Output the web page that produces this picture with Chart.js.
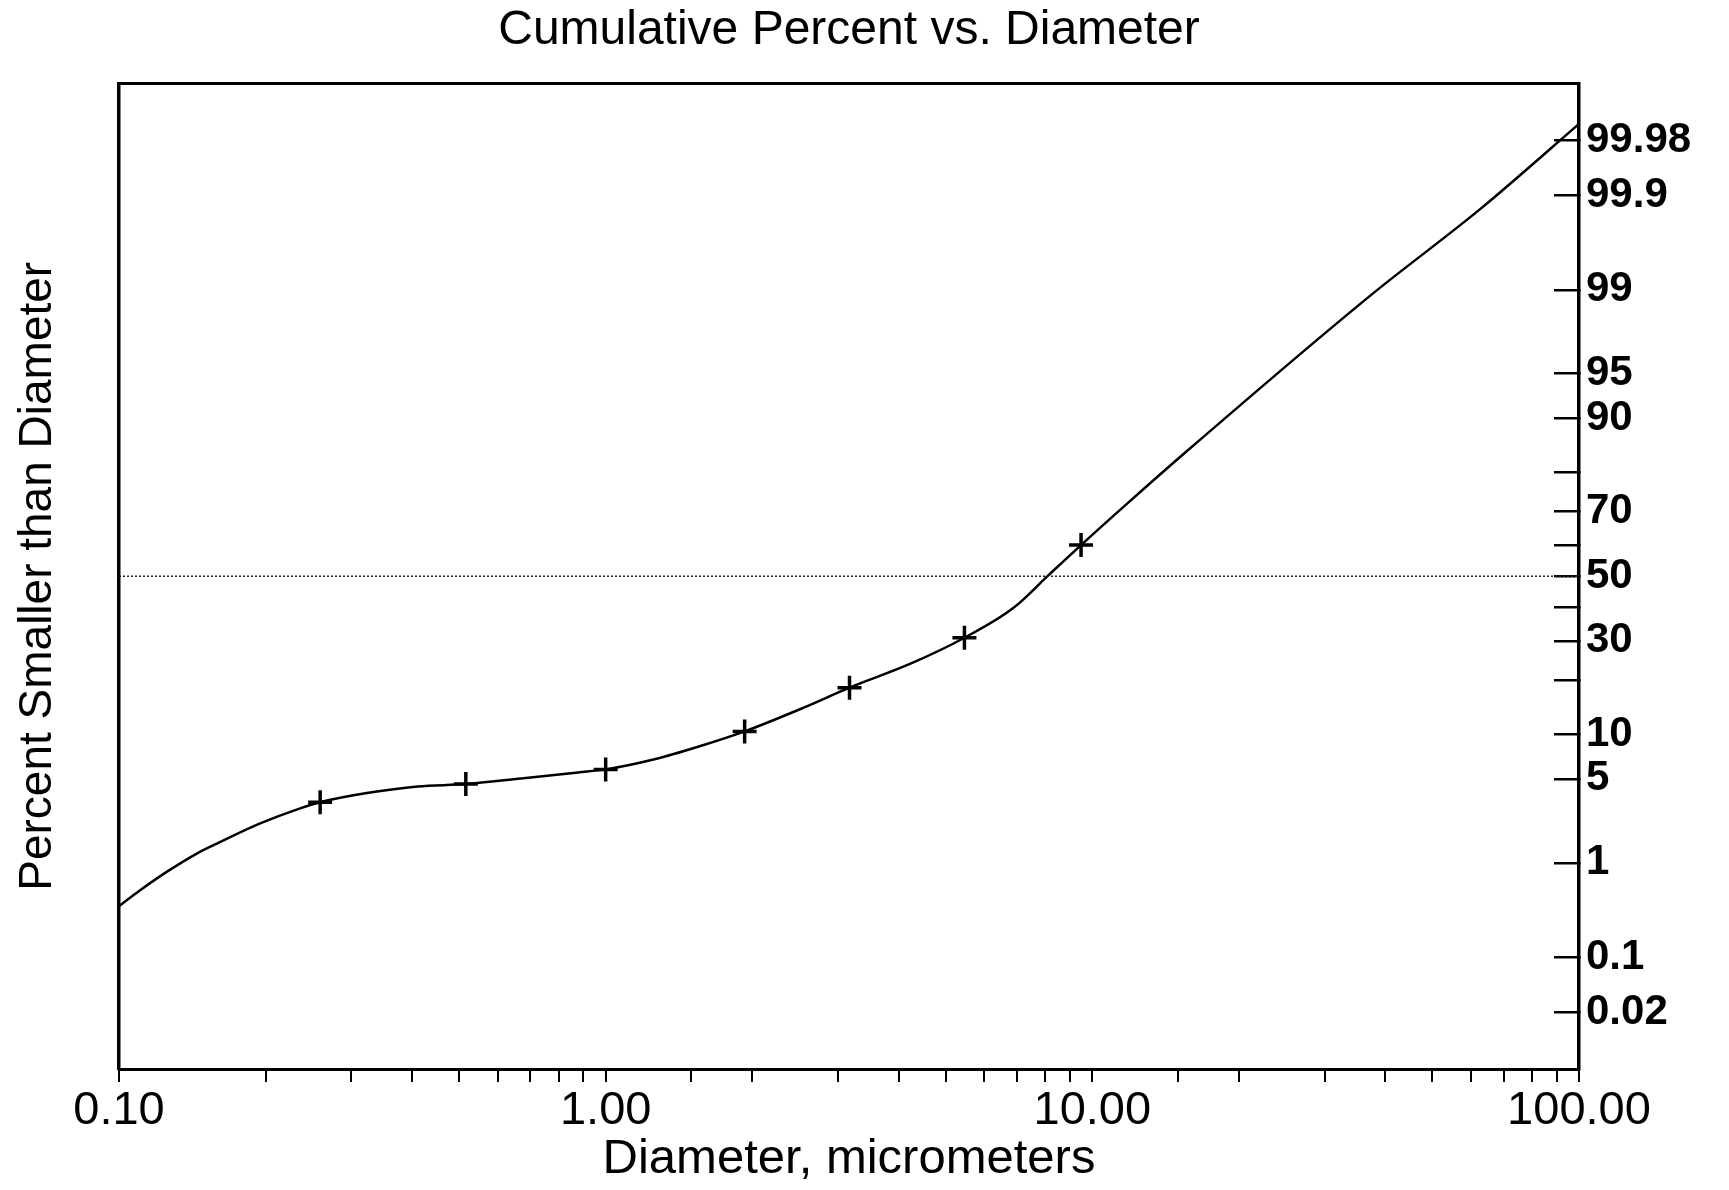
<!DOCTYPE html>
<html>
<head>
<meta charset="utf-8">
<title>Cumulative Percent vs. Diameter</title>
<script src="https://cdn.jsdelivr.net/npm/chart.js@4.4.1/dist/chart.umd.min.js"></script>
<style>
  html, body { margin: 0; padding: 0; background: #fff; }
  canvas { display: block; }
</style>
</head>
<body>
<canvas id="chart-cumulative" width="1729" height="1190"></canvas>
<script>
// Smoothed cumulative distribution (diameter in micrometers, percent smaller)
const curveDiameter = [0.100, 0.1105, 0.1253, 0.1445, 0.1589, 0.195, 0.2356, 0.259, 0.323,
  0.411, 0.516, 0.670, 0.878, 1.00, 1.26, 1.56, 1.93, 2.55, 3.17,
  4.23, 5.46, 6.90, 8.12, 9.48, 11.9, 15.5, 37.2, 63.0, 100];
const curvePercent = [0.37, 0.54, 0.82, 1.22, 1.50, 2.24, 2.98, 3.33, 3.92,
  4.40, 4.58, 5.04, 5.57, 5.85, 6.87, 8.38, 10.4, 14.3, 18.3,
  23.9, 30.9, 40.0, 50.3, 60.0, 72.7, 84.2, 98.86, 99.86, 99.988];

// Measured points marked with +
const sampleDiameter = [0.259, 0.516, 1.00, 1.93, 3.17, 5.46, 9.48];
const samplePercent = [3.33, 4.58, 5.85, 10.4, 18.3, 30.9, 60.0];

const medianPercent = 50;

const xMajorTicks = [0.1, 1, 10, 100];
const xMajorLabels = ['0.10', '1.00', '10.00', '100.00'];

const yTickPercent = [0.02, 0.1, 1, 5, 10, 20, 30, 40, 50, 60, 70, 80, 90, 95, 99, 99.9, 99.98];
const yTickLabels = ['0.02', '0.1', '1', '5', '10', '', '30', '', '50', '', '70', '', '90', '95', '99', '99.9', '99.98'];

const FONT = 'Liberation Sans, Arial, Helvetica, sans-serif';
const INK = '#000';

// inverse standard normal CDF (Acklam)
function probit(p) {
  const a = [-3.969683028665376e+01, 2.209460984245205e+02, -2.759285104469687e+02, 1.383577518672690e+02, -3.066479806614716e+01, 2.506628277459239e+00];
  const b = [-5.447609879822406e+01, 1.615858368580409e+02, -1.556989798598866e+02, 6.680131188771972e+01, -1.328068155288572e+01];
  const c = [-7.784894002430293e-03, -3.223964580411365e-01, -2.400758277161838e+00, -2.549732539343734e+00, 4.374664141464968e+00, 2.938163982698783e+00];
  const d = [7.784695709041462e-03, 3.224671290700398e-01, 2.445134137142996e+00, 3.754408661907416e+00];
  const plow = 0.02425;
  let q, r;
  if (p < plow) {
    q = Math.sqrt(-2 * Math.log(p));
    return (((((c[0] * q + c[1]) * q + c[2]) * q + c[3]) * q + c[4]) * q + c[5]) / ((((d[0] * q + d[1]) * q + d[2]) * q + d[3]) * q + 1);
  }
  if (p <= 1 - plow) {
    q = p - 0.5; r = q * q;
    return (((((a[0] * r + a[1]) * r + a[2]) * r + a[3]) * r + a[4]) * r + a[5]) * q / (((((b[0] * r + b[1]) * r + b[2]) * r + b[3]) * r + b[4]) * r + 1);
  }
  q = Math.sqrt(-2 * Math.log(1 - p));
  return -(((((c[0] * q + c[1]) * q + c[2]) * q + c[3]) * q + c[4]) * q + c[5]) / ((((d[0] * q + d[1]) * q + d[2]) * q + d[3]) * q + 1);
}

// Normal probability axis: values are percents, spaced by their z-score
class ProbabilityScale extends Chart.LinearScale {
  static id = 'probability';
  static defaults = Chart.LinearScale.defaults;

  determineDataLimits() {
    this.min = probit(this.options.min / 100);
    this.max = probit(this.options.max / 100);
  }

  buildTicks() {
    return yTickPercent.map(value => ({ value }));
  }

  getPixelForValue(value) {
    if (value === null || value === undefined) return NaN;
    return this.getPixelForDecimal((probit(value / 100) - this._startValue) / this._valueRange);
  }
}
Chart.register(ProbabilityScale);

const toPoints = (xs, ys) => xs.map((x, i) => ({ x, y: ys[i] }));

const ctx = document.getElementById('chart-cumulative').getContext('2d');
new Chart(ctx, {
  type: 'line',
  data: {
    datasets: [
      {
        label: 'median',
        data: [{ x: xMajorTicks[0], y: medianPercent }, { x: xMajorTicks[xMajorTicks.length - 1], y: medianPercent }],
        borderColor: '#222',
        borderWidth: 1.5,
        borderDash: [2, 2],
        pointRadius: 0,
        xAxisID: 'x',
        yAxisID: 'y'
      },
      {
        label: 'cumulative',
        data: toPoints(curveDiameter, curvePercent),
        borderColor: INK,
        borderWidth: 2.5,
        cubicInterpolationMode: 'monotone',
        pointRadius: 0,
        xAxisID: 'x',
        yAxisID: 'y'
      },
      {
        label: 'samples',
        data: toPoints(sampleDiameter, samplePercent),
        showLine: false,
        pointStyle: 'cross',
        pointRadius: 12,
        pointBorderWidth: 3.5,
        pointBorderColor: INK,
        xAxisID: 'x',
        yAxisID: 'y'
      }
    ]
  },
  options: {
    responsive: false,
    animation: false,
    events: [],
    layout: { padding: 0 },
    plugins: {
      legend: { display: false },
      tooltip: { enabled: false },
      title: {
        display: true,
        fullSize: false,
        text: 'Cumulative Percent vs. Diameter',
        color: INK,
        font: { family: FONT, size: 48, weight: 'normal' },
        padding: { top: 2, bottom: 24 }
      }
    },
    scales: {
      x: {
        type: 'logarithmic',
        position: 'bottom',
        min: 0.1,
        max: 100,
        grid: { drawOnChartArea: false, tickLength: 13, color: INK, lineWidth: 2 },
        border: { color: INK, width: 3 },
        ticks: {
          autoSkip: false,
          maxRotation: 0,
          padding: 1,
          color: INK,
          font: { family: FONT, size: 47 },
          callback: v => {
            const i = xMajorTicks.findIndex(m => Math.abs(v - m) < m * 1e-6);
            return i >= 0 ? xMajorLabels[i] : '';
          }
        },
        title: {
          display: true,
          text: 'Diameter, micrometers',
          color: INK,
          font: { family: FONT, size: 49 },
          padding: { top: 0, bottom: 1 }
        },
        afterFit: s => { s.height = 121; }
      },
      xTop: {
        type: 'logarithmic',
        position: 'top',
        min: 0.1,
        max: 100,
        grid: { display: false },
        ticks: { display: false },
        border: { color: INK, width: 3 },
        afterFit: s => { s.height = 0; }
      },
      y: {
        type: 'probability',
        position: 'right',
        min: 0.003167,
        max: 99.996833,
        grid: { drawOnChartArea: false, tickLength: -25, color: INK, lineWidth: 2.5 },
        border: { color: INK, width: 3.5 },
        ticks: {
          autoSkip: false,
          padding: 32,
          color: INK,
          font: { family: FONT, size: 42, weight: 'bold' },
          callback: (v, i) => yTickLabels[i]
        },
        afterFit: s => { s.width = 150; }
      },
      yLeft: {
        type: 'linear',
        position: 'left',
        min: 0,
        max: 1,
        grid: { display: false },
        ticks: { display: false },
        border: { color: INK, width: 3.5 },
        title: {
          display: true,
          text: 'Percent Smaller than Diameter',
          color: INK,
          font: { family: FONT, size: 46 },
          padding: { top: 11, bottom: 0 }
        },
        afterFit: s => { s.width = 119; }
      }
    }
  }
});
</script>
</body>
</html>
